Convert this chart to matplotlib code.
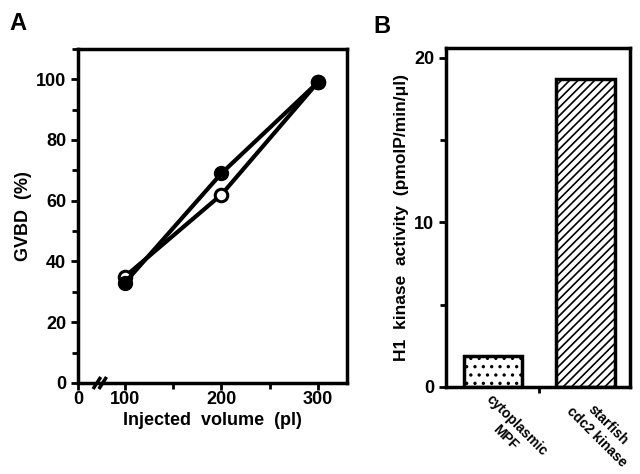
import matplotlib

matplotlib.use("Agg")
import matplotlib.pyplot as plt
from matplotlib.ticker import MultipleLocator, FixedLocator

plt.rcParams["font.family"] = ["Liberation Sans", "DejaVu Sans"]
plt.rcParams["font.weight"] = "bold"
plt.rcParams["hatch.linewidth"] = 1.2

# --- panel A: GVBD vs injected volume ---------------------------------------
volume = [100, 200, 300]
gvbd_filled = [33, 69, 99]
gvbd_open = [35, 62, 99]

# --- panel B: H1 kinase activity --------------------------------------------
sources = ["cytoplasmic\nMPF", "starfish\ncdc2 kinase"]
activity = [1.9, 18.7]
hatches = ["..", "////"]

X_ZERO = 51.5   # axis broken between 0 and 100: "0" drawn at the left edge
X_BREAK = 74

fig = plt.figure(figsize=(6.4, 4.74), dpi=100)

ax = fig.add_axes([0.122, 0.192, 0.420, 0.705])
ax.plot(volume, gvbd_open, color="black", lw=3, marker="o", ms=9,
        mfc="white", mec="black", mew=2.2, zorder=3)
ax.plot(volume, gvbd_filled, color="black", lw=3, marker="o", ms=10,
        mfc="black", mec="black", zorder=4)
ax.set_xlim(X_ZERO, 330)
ax.set_ylim(0, 110)
ax.xaxis.set_major_locator(FixedLocator([X_ZERO, 100, 200, 300]))
ax.set_xticklabels(["0", "100", "200", "300"])
ax.xaxis.set_minor_locator(FixedLocator([150, 250]))
ax.yaxis.set_major_locator(FixedLocator([0, 20, 40, 60, 80, 100]))
ax.yaxis.set_minor_locator(MultipleLocator(10))
ax.set_xlabel("Injected  volume  (pl)", fontsize=13, fontweight="bold", labelpad=3)
ax.set_ylabel("GVBD  (%)", fontsize=13, fontweight="bold", labelpad=3)
# axis break mark
for dx in (-3, 3):
    ax.plot([X_BREAK + dx - 3, X_BREAK + dx + 3], [-1.5, 1.5], color="black",
            lw=2.5, clip_on=False, zorder=5)

axb = fig.add_axes([0.697, 0.184, 0.287, 0.715])
pos = list(range(len(sources)))
axb.bar(pos, activity, width=0.63, color="white", edgecolor="black",
        linewidth=2.5, hatch=hatches)
axb.set_xlim(-0.51, 1.48)
axb.set_ylim(0, 20.6)
axb.yaxis.set_major_locator(FixedLocator([0, 10, 20]))
axb.yaxis.set_minor_locator(MultipleLocator(5))
axb.xaxis.set_major_locator(FixedLocator(pos))
axb.set_xticklabels(sources, rotation=-45, ha="left", va="top",
                    rotation_mode="anchor", multialignment="center",
                    fontsize=10, fontweight="bold")
axb.xaxis.set_minor_locator(FixedLocator([0.5]))
axb.set_ylabel("H1  kinase  activity  (pmolP/min/μl)", fontsize=12.5,
               fontweight="bold", labelpad=4)

for a in (ax, axb):
    for s in a.spines.values():
        s.set_linewidth(2.5)
    a.tick_params(which="major", direction="out", length=5, width=2,
                  labelsize=13)
    a.tick_params(which="minor", direction="out", length=4, width=2)
    a.tick_params(axis="x", which="major", pad=1)
    for lab in a.get_yticklabels() + a.get_xticklabels():
        lab.set_fontweight("bold")
axb.tick_params(axis="x", which="major", length=0, pad=4, labelsize=10)

fig.text(0.014, 0.975, "A", fontsize=17, fontweight="bold", va="top")
fig.text(0.583, 0.968, "B", fontsize=17, fontweight="bold", va="top")

fig.savefig("out.png", dpi=100)
